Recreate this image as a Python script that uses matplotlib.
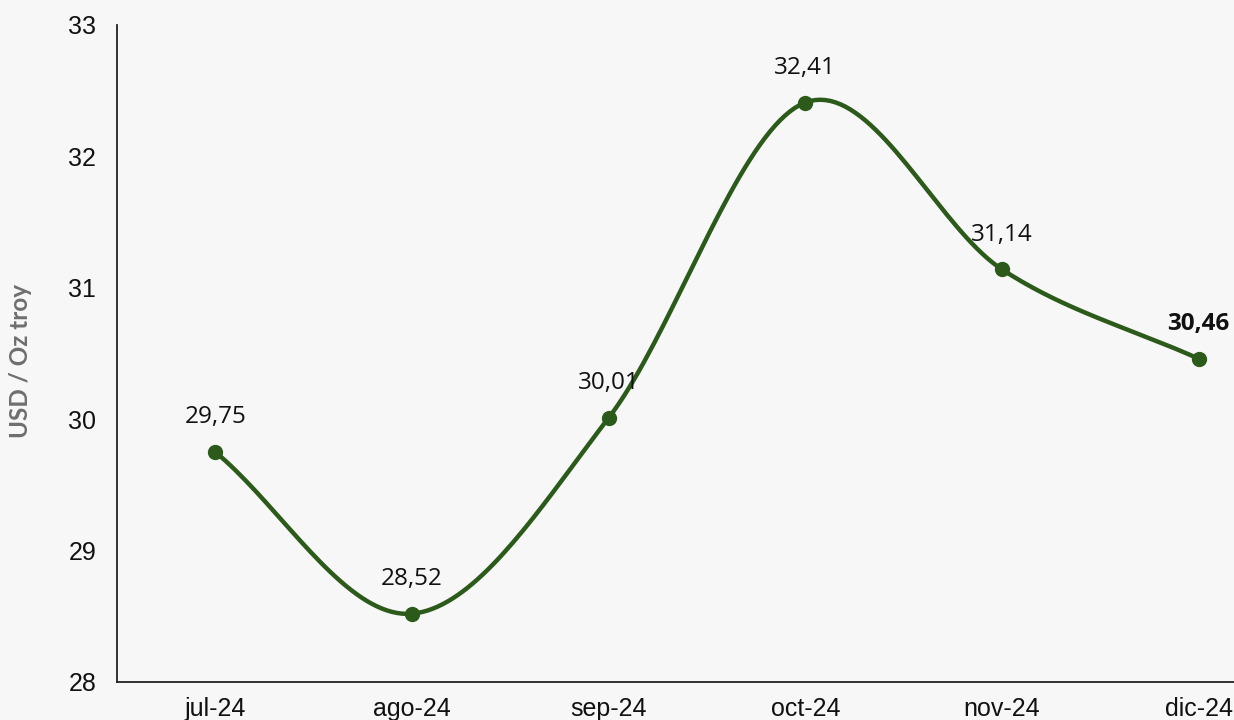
import numpy as np
import matplotlib
matplotlib.use("Agg")
import matplotlib.pyplot as plt

# monthly silver price, USD / oz troy
months = ["jul-24", "ago-24", "sep-24", "oct-24", "nov-24", "dic-24"]
prices = [29.75, 28.52, 30.01, 32.41, 31.14, 30.46]
labels = ["29,75", "28,52", "30,01", "32,41", "31,14", "30,46"]

bg = "#f7f7f7"
green = "#2b5a1a"

# smoothed line (catmull-rom, like excel's smoothed line)
def smooth(x, y, n=40):
    x = np.asarray(x, float)
    y = np.asarray(y, float)
    px = np.concatenate([[2 * x[0] - x[1]], x, [2 * x[-1] - x[-2]]])
    py = np.concatenate([[2 * y[0] - y[1]], y, [2 * y[-1] - y[-2]]])
    xs, ys = [], []
    for i in range(1, len(px) - 2):
        t = np.linspace(0, 1, n)
        for p, out in ((px, xs), (py, ys)):
            p0, p1, p2, p3 = p[i - 1], p[i], p[i + 1], p[i + 2]
            out.extend(0.5 * (2 * p1 + (-p0 + p2) * t
                              + (2 * p0 - 5 * p1 + 4 * p2 - p3) * t ** 2
                              + (-p0 + 3 * p1 - 3 * p2 + p3) * t ** 3))
    return np.array(xs), np.array(ys)

fig = plt.figure(figsize=(12.34, 7.2), dpi=100, facecolor=bg)
ax = fig.add_axes([0.0948, 0.0528, 0.9562, 0.9125])
ax.set_facecolor(bg)

xi = np.arange(len(months))
sx, sy = smooth(xi, prices)
ax.plot(sx, sy, color=green, lw=3.2, solid_capstyle="round", zorder=2)
ax.plot(xi, prices, "o", color=green, ms=10, zorder=3)

for i, (v, lab) in enumerate(zip(prices, labels)):
    ax.annotate(lab, (i, v), xytext=(0, 25), textcoords="offset points",
                ha="center", va="center", fontsize=17.5, family="Open Sans",
                fontweight="bold" if i == len(prices) - 1 else "normal",
                color="#111111")

ax.set_xlim(-0.5, 5.5)
ax.set_ylim(28, 33)
ax.set_yticks(range(28, 34))
ax.set_xticks(xi)
ax.set_xticklabels(months)
for s in ("top", "right"):
    ax.spines[s].set_visible(False)
for s in ("left", "bottom"):
    ax.spines[s].set_color("#222222")
    ax.spines[s].set_linewidth(1.3)
ax.tick_params(length=0, labelsize=18, colors="#111111")
ax.tick_params(axis="y", pad=15)
ax.tick_params(axis="x", pad=11)
for t in ax.get_xticklabels() + ax.get_yticklabels():
    t.set_family("Liberation Sans")

ax.set_ylabel("USD / Oz troy", fontsize=17.5, fontweight="bold", color="#6e6e6e",
              family="Lato")
ax.yaxis.set_label_coords(-0.072, 0.488)

fig.savefig("out.png", dpi=100, facecolor=bg)
